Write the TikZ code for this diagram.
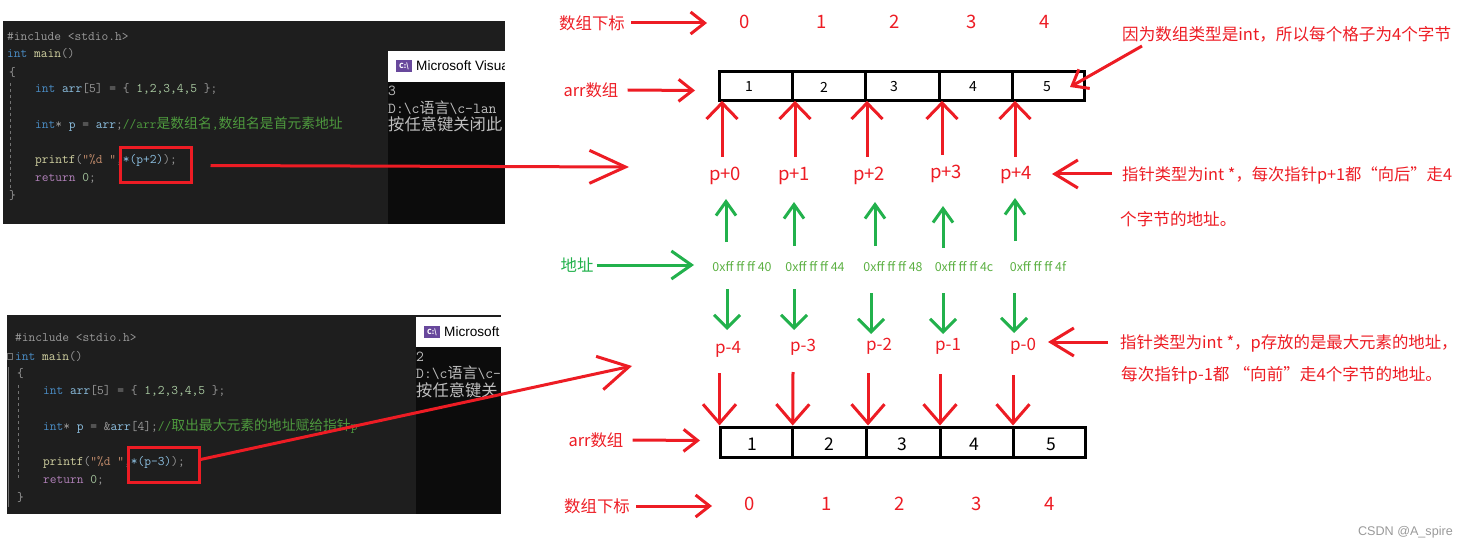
\documentclass[tikz,border=0pt]{standalone}
\usepackage{fontspec}
\setmainfont{Noto Sans CJK SC}
\newfontfamily\cjk{Noto Sans CJK SC}
\newfontfamily\winfont{Liberation Sans}
\usetikzlibrary{arrows.meta}

\definecolor{penred}{HTML}{ED1C24}
\definecolor{pengreen}{HTML}{22B14C}
\definecolor{addrgreen}{HTML}{5CB043}
\definecolor{editorbg}{HTML}{1E1E1E}
\definecolor{consolebg}{HTML}{0C0C0C}
\definecolor{codegray}{HTML}{9A9A9A}
\definecolor{codeblue}{HTML}{4A8CC4}
\definecolor{codevar}{HTML}{8CBFE0}
\definecolor{codegreen}{HTML}{4E9A3E}
\definecolor{codeyellow}{HTML}{D0D0A0}
\definecolor{codeorange}{HTML}{C08A6A}
\definecolor{codepurple}{HTML}{B080B8}
\definecolor{codenum}{HTML}{A8C8A0}
\definecolor{iconpurple}{HTML}{68489C}

\tikzset{
  codeline/.style={anchor=west,inner sep=0pt,text=codegray,font=\ttfamily\fontsize{13.1}{15}\selectfont},
  consoleline/.style={anchor=west,inner sep=0pt,text=black!25,font=\ttfamily\fontsize{15.2}{17}\selectfont},
  wintitle/.style={anchor=west,inner sep=0pt,text=black,font=\winfont\fontsize{13.6}{16}\selectfont},
  redbox/.style={draw=penred,line width=3pt,minimum width=71pt,minimum height=35pt,inner sep=0pt},
  namelabel/.style={inner sep=3pt,text=penred,font=\fontsize{16.4}{20}\selectfont},
  notetext/.style={anchor=west,inner sep=0pt,text=penred,font=\fontsize{16.6}{20}\selectfont},
  indexnum/.style={inner sep=0pt,text=penred,font=\fontsize{18.5}{20}\selectfont},
  pluslabel/.style={inner sep=0pt,text=penred,font=\fontsize{18.5}{20}\selectfont},
  minuslabel/.style={inner sep=0pt,text=penred,font=\fontsize{17}{20}\selectfont},
  addrlabel/.style={inner sep=0pt,text=addrgreen,font=\fontsize{12.4}{14}\selectfont},
  cellbox/.style={draw=black,line width=3pt,fill=white,outer sep=0pt,inner sep=0pt},
  topnum/.style={inner sep=0pt,font=\fontsize{14}{16}\selectfont},
  botnum/.style={inner sep=0pt,font=\fontsize{17.5}{20}\selectfont},
  redshort/.style={draw=penred,line width=3pt,-{Straight Barb[length=14pt,width=22pt]}},
  redwide/.style={draw=penred,line width=3pt,-{Straight Barb[length=16pt,width=31pt]}},
  reddrop/.style={draw=penred,line width=3pt,-{Straight Barb[length=19pt,width=33pt]}},
  rednote/.style={draw=penred,line width=3pt,-{Straight Barb[length=23pt,width=28pt]}},
  greenup/.style={draw=pengreen,line width=3pt,-{Straight Barb[length=14pt,width=20pt]}},
  greendown/.style={draw=pengreen,line width=3pt,-{Straight Barb[length=13pt,width=26pt]}},
}

\begin{document}
\begin{tikzpicture}[x=1pt,y=-1pt]
\useasboundingbox (0,0) rectangle (1469,548);

% Editor and console, upper screenshot
\fill[editorbg] (3,21) rectangle (505,224);
\fill[consolebg] (388,82) rectangle (505,224);
\fill[white] (388,51) rectangle (505,82);
\fill[iconpurple] (396,60) rectangle (412,72);
\draw[black!55,dashed,line width=0.8pt] (10,83) -- (10,188);

\node[codeline] (upline0) at (7,37){\#include <stdio.h>};
\node[codeline] (upline1) at (7,54){\textcolor{codeblue}{int} \textcolor{codeyellow}{main}()};
\node[codeline] (upline2) at (9,72){\{};
\node[codeline] (upline3) at (35,89){\textcolor{codeblue}{int} \textcolor{codevar}{arr}[5] = \{ \textcolor{codenum}{1,2,3,4,5} \};};
\node[codeline] (upline4) at (35,124){\textcolor{codeblue}{int}* \textcolor{codevar}{p} = \textcolor{codevar}{arr};\textcolor{codegreen}{//arr{\cjk\fontsize{13.8}{15}\selectfont 是数组名},{\cjk\fontsize{13.8}{15}\selectfont 数组名是首元素地址}}};
\node[codeline] (upline5) at (35,160){\textcolor{codeyellow}{printf}(\textcolor{codeorange}{"\%d "},\textcolor{codevar}{*(p+2)});};
\node[codeline] (upline6) at (35,178){\textcolor{codepurple}{return} \textcolor{codenum}{0};};
\node[codeline] (upline7) at (9,195){\}};
\node[consoleline] (upout0) at (388,91){3};
\node[consoleline] (upout1) at (388,108){D:\textbackslash c{\cjk\fontsize{15}{17}\selectfont 语言}\textbackslash c-lan};
\node[consoleline] (upout2) at (388,124){{\cjk\fontsize{16.3}{17}\selectfont 按任意键关闭此}};
\node[wintitle] (uptitle) at (416,66){Microsoft Visua};
\node[inner sep=0pt,text=white,font=\bfseries\fontsize{7}{8}\selectfont] (upicon) at (404,66){C:\textbackslash};
\fill[white] (505,51) rectangle (515,82);

% Editor and console, lower screenshot
\fill[editorbg] (7,315) rectangle (501,514);
\fill[consolebg] (416,347) rectangle (501,514);
\fill[white] (416,317) rectangle (501,347);
\fill[iconpurple] (424,326) rectangle (440,338);
\draw[black!55,line width=0.8pt] (8,367) -- (8,507);
\draw[black!55,line width=0.8pt] (7,353) rectangle (12,359);
\draw[black!55,dashed,line width=0.8pt] (18,385) -- (18,480);

\node[codeline] (lowline0) at (15,338){\#include <stdio.h>};
\node[codeline] (lowline1) at (15,356){\textcolor{codeblue}{int} \textcolor{codeyellow}{main}()};
\node[codeline] (lowline2) at (17,373){\{};
\node[codeline] (lowline3) at (43,391){\textcolor{codeblue}{int} \textcolor{codevar}{arr}[5] = \{ \textcolor{codenum}{1,2,3,4,5} \};};
\node[codeline] (lowline4) at (43,426){\textcolor{codeblue}{int}* \textcolor{codevar}{p} = \&\textcolor{codevar}{arr}[4];\textcolor{codegreen}{//{\cjk\fontsize{13.8}{15}\selectfont 取出最大元素的地址赋给指针}p}};
\node[codeline] (lowline5) at (43,462){\textcolor{codeyellow}{printf}(\textcolor{codeorange}{"\%d "},\textcolor{codevar}{*(p-3)});};
\node[codeline] (lowline6) at (43,480){\textcolor{codepurple}{return} \textcolor{codenum}{0};};
\node[codeline] (lowline7) at (17,497){\}};
\node[consoleline] (lowout0) at (416,357){2};
\node[consoleline] (lowout1) at (416,373){D:\textbackslash c{\cjk\fontsize{15}{17}\selectfont 语言}\textbackslash c-};
\node[consoleline] (lowout2) at (416,390){{\cjk\fontsize{16.3}{17}\selectfont 按任意键关}};
\node[wintitle] (lowtitle) at (444,332){Microsoft};
\node[inner sep=0pt,text=white,font=\bfseries\fontsize{7}{8}\selectfont] (lowicon) at (432,332){C:\textbackslash};

% Red frames round the two expressions
\node[redbox] (upframe) at (155.5,165.5){};
\node[redbox] (lowframe) at (163.5,464.5){};

% Long arrows out of the frames
\coordinate (uptip) at (629,167);
\coordinate (lowtip) at (632,366);
\draw[draw=penred,line width=3pt,-{Straight Barb[length=36pt,width=33pt]}] ([xshift=18pt]upframe.east) -- (uptip);
\draw[draw=penred,line width=3pt,-{Straight Barb[length=30pt,width=34pt]}] ([yshift=5pt]lowframe.east) -- (lowtip);

% Upper index row
\node[namelabel] (upidxname) at (592,23){数组下标};
\node[indexnum] (upidx0) at (745,22){0};
\node[indexnum] (upidx1) at (822,22){1};
\node[indexnum] (upidx2) at (895,22){2};
\node[indexnum] (upidx3) at (972,22){3};
\node[indexnum] (upidx4) at (1045,22){4};
\coordinate (upidxtip) at (707,23);
\draw[redshort] ([xshift=3pt]upidxname.east) -- (upidxtip);

% Upper array
\node[namelabel] (uparrname) at (591,90){arr数组};
\coordinate (uparrtip) at (695,90.5);
\draw[redshort] ([xshift=6pt]uparrname.east) -- (uparrtip);
\node[cellbox,minimum width=72.5pt,minimum height=29.3pt] (upcell0) at (755.75,86.2){};
\node[cellbox,minimum width=73pt,minimum height=29.3pt] (upcell1) at (828.5,86.2){};
\node[cellbox,minimum width=74pt,minimum height=29.3pt] (upcell2) at (902,86.2){};
\node[cellbox,minimum width=73pt,minimum height=29.3pt] (upcell3) at (975.5,86.2){};
\node[cellbox,minimum width=72.5pt,minimum height=29.3pt] (upcell4) at (1048.25,86.2){};
\node[topnum] (upnum0) at (749,87){1};
\node[topnum] (upnum1) at (824,87){2};
\node[topnum] (upnum2) at (894,87){3};
\node[topnum] (upnum3) at (973,87){4};
\node[topnum] (upnum4) at (1047,87){5};

% Pointers going up
\node[pluslabel] (pplus0) at (725,176){p+0};
\node[pluslabel] (pplus1) at (794,176){p+1};
\node[pluslabel] (pplus2) at (869,176){p+2};
\node[pluslabel] (pplus3) at (946,174){p+3};
\node[pluslabel] (pplus4) at (1016,175){p+4};
\coordinate (redup0) at (722,157);
\coordinate (redup1) at (795,157);
\coordinate (redup2) at (867,157);
\coordinate (redup3) at (942,155);
\coordinate (redup4) at (1015,157);
\draw[redwide] (redup0) -- ([xshift=2.5pt]upcell0.south west);
\draw[redwide] (redup1) -- ([xshift=3pt]upcell1.south west);
\draw[redwide] (redup2) -- ([xshift=2pt]upcell2.south west);
\draw[redwide] (redup3) -- ([xshift=3pt]upcell3.south west);
\draw[redwide] (redup4) -- ([xshift=3pt]upcell4.south west);

% Addresses
\node[namelabel,text=pengreen] (addrname) at (577,265){地址};
\coordinate (addrtip) at (694,265);
\draw[draw=pengreen,line width=3pt,-{Straight Barb[length=20pt,width=28pt]}] (addrname.east) -- (addrtip);
\node[addrlabel] (addr0) at (742,267){0xff ff ff 40};
\node[addrlabel] (addr1) at (815,267){0xff ff ff 44};
\node[addrlabel] (addr2) at (893,267){0xff ff ff 48};
\node[addrlabel] (addr3) at (964,267){0xff ff ff 4c};
\node[addrlabel] (addr4) at (1038,267){0xff ff ff 4f};

% Green arrows, up
\coordinate (gup0a) at (726,242); \coordinate (gup0b) at (726,199);
\coordinate (gup1a) at (794,246); \coordinate (gup1b) at (794,202);
\coordinate (gup2a) at (875,246); \coordinate (gup2b) at (875,202);
\coordinate (gup3a) at (943,248); \coordinate (gup3b) at (943,206);
\coordinate (gup4a) at (1015,241); \coordinate (gup4b) at (1015,198);
\draw[greenup] (gup0a) -- (gup0b);
\draw[greenup] (gup1a) -- (gup1b);
\draw[greenup] (gup2a) -- (gup2b);
\draw[greenup] (gup3a) -- (gup3b);
\draw[greenup] (gup4a) -- (gup4b);

% Green arrows, down
\coordinate (gdn0a) at (727,289); \coordinate (gdn0b) at (727,330);
\coordinate (gdn1a) at (794,289); \coordinate (gdn1b) at (794,330);
\coordinate (gdn2a) at (871,293); \coordinate (gdn2b) at (871,334);
\coordinate (gdn3a) at (943,293); \coordinate (gdn3b) at (943,334);
\coordinate (gdn4a) at (1014,293); \coordinate (gdn4b) at (1014,333);
\draw[greendown] (gdn0a) -- (gdn0b);
\draw[greendown] (gdn1a) -- (gdn1b);
\draw[greendown] (gdn2a) -- (gdn2b);
\draw[greendown] (gdn3a) -- (gdn3b);
\draw[greendown] (gdn4a) -- (gdn4b);

% Pointers going down
\node[minuslabel] (pminus0) at (728,349){p-4};
\node[minuslabel] (pminus1) at (803,347){p-3};
\node[minuslabel] (pminus2) at (879,346){p-2};
\node[minuslabel] (pminus3) at (948,346){p-1};
\node[minuslabel] (pminus4) at (1023,346){p-0};

% Lower array
\node[cellbox,minimum width=72.2pt,minimum height=30pt] (lowcell0) at (756.6,442.5){};
\node[cellbox,minimum width=74pt,minimum height=30pt] (lowcell1) at (829.7,442.5){};
\node[cellbox,minimum width=73.3pt,minimum height=30pt] (lowcell2) at (903.35,442.5){};
\node[cellbox,minimum width=73pt,minimum height=30pt] (lowcell3) at (976.5,442.5){};
\node[cellbox,minimum width=72.5pt,minimum height=30pt] (lowcell4) at (1049.25,442.5){};
\node[botnum] (lownum0) at (752,444){1};
\node[botnum] (lownum1) at (829.5,444){2};
\node[botnum] (lownum2) at (902,444){3};
\node[botnum] (lownum3) at (974,444){4};
\node[botnum] (lownum4) at (1051.5,444){5};
\node[namelabel] (lowarrname) at (596,440){arr数组};
\coordinate (lowarrtip) at (700,440.5);
\draw[redshort] ([xshift=6pt]lowarrname.east) -- (lowarrtip);

% Red arrows into the lower array
\coordinate (reddn0) at (719.5,373);
\coordinate (reddn1) at (793,372);
\coordinate (reddn2) at (868,373);
\coordinate (reddn3) at (940,374);
\coordinate (reddn4) at (1013,375);
\draw[reddrop] (reddn0) -- ([xshift=-1pt,yshift=2pt]lowcell0.north west);
\draw[reddrop] (reddn1) -- ([yshift=2pt]lowcell1.north west);
\draw[reddrop] (reddn2) -- ([xshift=1.3pt,yshift=2pt]lowcell2.north west);
\draw[reddrop] (reddn3) -- ([yshift=2pt]lowcell3.north west);
\draw[reddrop] (reddn4) -- ([yshift=2pt]lowcell4.north west);

% Lower index row
\node[namelabel] (lowidxname) at (597,506){数组下标};
\node[indexnum] (lowidx0) at (750,504){0};
\node[indexnum] (lowidx1) at (827,504){1};
\node[indexnum] (lowidx2) at (900,504){2};
\node[indexnum] (lowidx3) at (977,504){3};
\node[indexnum] (lowidx4) at (1050,504){4};
\coordinate (lowidxtip) at (712,506);
\draw[redshort] ([xshift=3pt]lowidxname.east) -- (lowidxtip);

% Notes on the right
\node[notetext] (note0) at (1122,34){因为数组类型是int，所以每个格子为4个字节};
\node[notetext,font=\fontsize{16.3}{20}\selectfont] (note1) at (1122,175){指针类型为int *，每次指针p+1都“向后”走4};
\node[notetext] (note2) at (1120,219){个字节的地址。};
\node[notetext,font=\fontsize{16.4}{20}\selectfont] (note3) at (1120,343){指针类型为int *，p存放的是最大元素的地址，};
\node[notetext] (note4) at (1121,375){每次指针p-1都\hspace{4pt}“向前”走4个字节的地址。};
\coordinate (note0tail) at (1142,46);
\coordinate (note0tip) at (1070,87);
\coordinate (note1tail) at (1112,174);
\coordinate (note1tip) at (1052,174);
\coordinate (note3tail) at (1108,342);
\coordinate (note3tip) at (1048,342);
\draw[redshort] (note0tail) -- (note0tip);
\draw[rednote] (note1tail) -- (note1tip);
\draw[rednote] (note3tail) -- (note3tip);

% Watermark
\node[anchor=east,inner sep=0pt,text=black!40,font=\winfont\fontsize{12.6}{14}\selectfont] (mark) at (1453,532){CSDN @A\_spire};
\end{tikzpicture}
\end{document}
